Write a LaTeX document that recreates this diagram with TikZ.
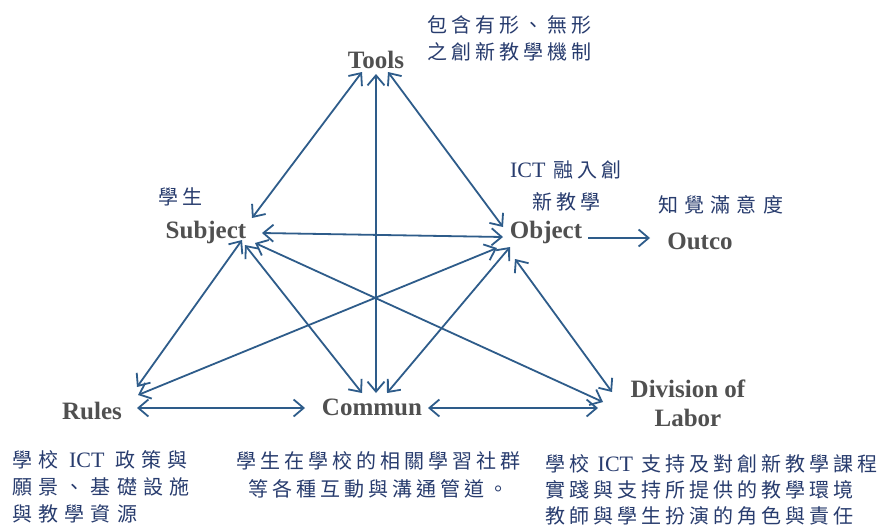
\documentclass[tikz,border=0pt]{standalone}
\usepackage{fontspec}
\setmainfont{Liberation Serif}
\newfontfamily\cjk[LetterSpace=20]{Noto Sans CJK TC}
\newfontfamily\cjkw[LetterSpace=31]{Noto Sans CJK TC}
\usetikzlibrary{arrows.meta,calc}
\definecolor{arrc}{RGB}{46,92,138}
\definecolor{labc}{RGB}{80,80,80}
\definecolor{annc}{RGB}{40,60,110}
\newcommand\ictx{{\rmfamily\fontsize{22}{26}\selectfont ICT}}
\tikzset{
  lbl/.style={font=\fontsize{25}{29}\selectfont\bfseries, text=labc, inner sep=0pt, align=center},
  ann/.style={font=\fontsize{20}{27}\selectfont\cjk, text=annc, inner sep=0pt},
  annw/.style={font=\fontsize{20}{27}\selectfont\cjkw, text=annc, inner sep=0pt},
  link/.style={draw=arrc, line width=1.8pt, {Straight Barb[length=10pt,width=17pt]}-{Straight Barb[length=10pt,width=17pt]}},
  oneway/.style={draw=arrc, line width=1.8pt, -{Straight Barb[length=10pt,width=17pt]}},
}
\begin{document}
\begin{tikzpicture}[x=1pt,y=-1pt]
\useasboundingbox[fill=white] (0,0) rectangle (881,528);

% main labels
\node[lbl] (tools) at (376,60) {Tools};
\node[lbl] (subject) at (206,232) {Subject};
\node[lbl] (object) at (546,232) {Object};
\node[lbl] (outco) at (700,241) {Outco};
\node[lbl] (rules) at (92,411) {Rules};
\node[lbl] (commun) at (372,407) {Commun};
\node[lbl] (division) at (688,403) {Division of\\Labor};

% annotations
\node[ann, anchor=west, align=left] (toolsnote) at (427,38) {包含有形、無形\\之創新教學機制};
\node[ann, align=center, font=\fontsize{20}{32}\selectfont\cjk] (objnote) at (566,186) {\ictx{} 融入創\\新教學};
\node[ann, anchor=west] (subjnote) at (158,197) {學生};
\node[annw, anchor=west] (outnote) at (658,205) {知覺滿意度};
\node[annw, anchor=west, align=left] (rulesnote) at (12,487) {學校 \ictx{} 政策與\\願景、基礎設施\\與教學資源};
\node[ann, align=center, font=\fontsize{20}{28}\selectfont\cjk] (communnote) at (378,475) {學生在學校的相關學習社群\\等各種互動與溝通管道。};
\node[ann, anchor=west, align=left, font=\fontsize{20}{26}\selectfont\cjk] (divnote) at (545,490) {學校 \ictx{} 支持及對創新教學課程\\實踐與支持所提供的教學環境\\教師與學生扮演的角色與責任};

% connectors
\draw[link] ($(tools)+(-14,12)$) -- ($(subject)+(46,-14)$);
\draw[link] ($(tools)+(0,14)$) -- ($(commun)+(4,-14)$);
\draw[link] ($(tools)+(12,12)$) -- ($(object)+(-43,-5)$);
\draw[link] ($(subject)+(56,1)$) -- ($(object)+(-43,5)$);
\draw[link] ($(subject)+(36,8)$) -- ($(rules)+(45,-24)$);
\draw[link] ($(subject)+(39,13)$) -- ($(commun)+(-10,-14)$);
\draw[link] ($(subject)+(49,11)$) -- ($(division)+(-85,-1)$);
\draw[link] ($(object)+(-49,16)$) -- ($(rules)+(46,-16)$);
\draw[link] ($(object)+(-36,15)$) -- ($(commun)+(15,-14)$);
\draw[link] ($(object)+(-31,27)$) -- ($(division)+(-76,-11)$);
\draw[link] ($(rules)+(45,-3)$) -- ($(commun)+(-67,1)$);
\draw[link] ($(commun)+(56,1)$) -- ($(division)+(-90,5)$);
\draw[oneway] ($(object)+(42,6)$) -- ($(outco)+(-50,-3)$);
\end{tikzpicture}
\end{document}
